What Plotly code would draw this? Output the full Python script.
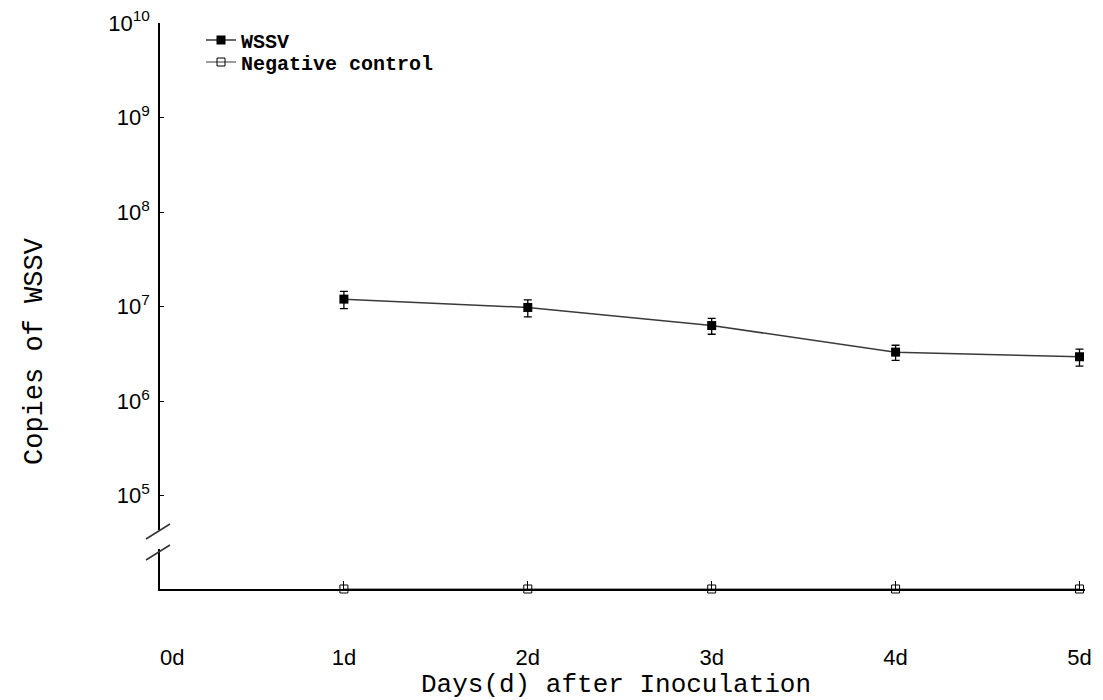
import plotly.graph_objects as go

# ---- data ----
days = [0, 1, 2, 3, 4, 5]
day_labels = ["0d", "1d", "2d", "3d", "4d", "5d"]
wssv_days = [1, 2, 3, 4, 5]
wssv_copies = [1.2e7, 9.8e6, 6.3e6, 3.3e6, 2.95e6]
wssv_sd = [2.5e6, 2.0e6, 1.2e6, 0.6e6, 0.6e6]
neg_days = [1, 2, 3, 4, 5]
neg_copies = [0, 0, 0, 0, 0]
y_exponents = [5, 6, 7, 8, 9, 10]

# axis in log10 units (broken axis: zero plotted at the floor)
Y_LOG_RANGE = [4.013, 10.0]
X_RANGE = [0, 5.03]
floor_value = 10 ** (Y_LOG_RANGE[0] + 1e-6)
neg_plot = [v if v > 0 else floor_value for v in neg_copies]

L, R, T, B = 160, 18, 23, 111
W, H = 1103, 700
plot_h = H - T - B
plot_w = W - L - R
def py(p):
    return (H - B - p) / plot_h
def px(p):
    return (p - L) / plot_w

fig = go.Figure()

fig.add_trace(go.Scatter(
    x=wssv_days, y=wssv_copies, name="WSSV", legend="legend",
    mode="lines+markers",
    line=dict(color="#3a3a3a", width=1.5),
    marker=dict(symbol="square", size=9, color="black"),
    error_y=dict(type="data", array=wssv_sd, visible=True,
                 color="black", thickness=1.3, width=4),
    cliponaxis=False,
))

fig.add_trace(go.Scatter(
    x=neg_days, y=neg_plot, name="Negative control", legend="legend2",
    mode="lines+markers",
    line=dict(color="#3a3a3a", width=1),
    marker=dict(symbol="square-open", size=8, color="black",
                line=dict(width=1)),
    cliponaxis=False,
))

tick_text = list(day_labels)
tick_text[0] = "\u00a0\u00a0\u00a0\u00a0" + tick_text[0]

legend_font = dict(family="Liberation Mono", size=20, color="black", weight="bold")
fig.update_layout(
    width=W, height=H,
    margin=dict(l=L, r=R, t=T, b=B, autoexpand=False),
    paper_bgcolor="white", plot_bgcolor="white",
    font=dict(family="Liberation Sans, Arial", color="black"),
    showlegend=True,
    legend=dict(x=px(201), y=py(40), xanchor="left", yanchor="middle",
                bgcolor="rgba(0,0,0,0)", font=legend_font, itemwidth=30),
    legend2=dict(x=px(201), y=py(62), xanchor="left", yanchor="middle",
                 bgcolor="rgba(0,0,0,0)", font=legend_font, itemwidth=30),
    xaxis=dict(
        range=X_RANGE, tickmode="array", tickvals=days, ticktext=tick_text,
        showline=True, linecolor="black", linewidth=1.5,
        ticks="inside", ticklen=8, tickcolor="black",
        showgrid=False, zeroline=False, automargin=False,
        tickfont=dict(family="Liberation Sans, Arial", size=22, color="black"),
        ticklabelstandoff=48,
    ),
    yaxis=dict(
        type="log", range=Y_LOG_RANGE,
        tickmode="array",
        tickvals=[10 ** e for e in y_exponents],
        ticktext=[f"10<sup>{e}</sup>" for e in y_exponents],
        showline=True, linecolor="black", linewidth=1.5,
        ticks="inside", ticklen=4, tickcolor="black",
        showgrid=False, zeroline=False, automargin=False,
        tickfont=dict(family="Liberation Sans, Arial", size=22, color="black"),
        ticklabelstandoff=4,
    ),
)

# axis titles
fig.add_annotation(text="Days(d) after Inoculation", xref="paper", yref="paper",
                   x=px(616), y=py(685), showarrow=False,
                   xanchor="center", yanchor="middle",
                   font=dict(family="Liberation Mono", size=26, color="black"))
fig.add_annotation(text="Copies of WSSV", xref="paper", yref="paper",
                   x=px(35), y=py(351), showarrow=False, textangle=-90,
                   xanchor="center", yanchor="middle",
                   font=dict(family="Liberation Mono", size=27, color="black"))

# axis break decoration
fig.add_shape(type="rect", xref="paper", yref="paper",
              x0=px(157), x1=px(163), y0=py(549), y1=py(530),
              fillcolor="white", line=dict(width=0), layer="above")
for (a, b) in [((146, 539), (170, 524)), ((146, 560), (170, 545))]:
    fig.add_shape(type="line", xref="paper", yref="paper",
                  x0=px(a[0]), y0=py(a[1]), x1=px(b[0]), y1=py(b[1]),
                  line=dict(color="#333333", width=1.5), layer="above")

fig.write_html("out.html", config={"displayModeBar": False},
               post_script="document.body.style.margin='0px';document.body.style.overflow='hidden';")
